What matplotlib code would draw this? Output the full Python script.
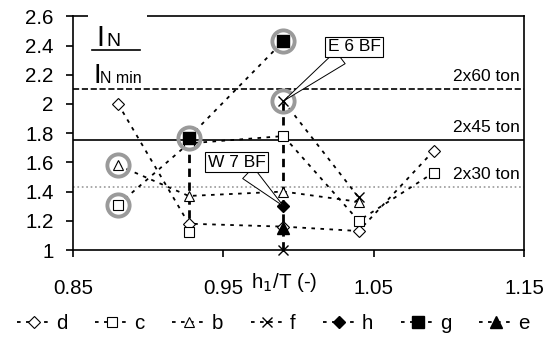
import numpy as np
import matplotlib.pyplot as plt
from matplotlib.patches import Rectangle
from matplotlib.lines import Line2D

plt.rcParams['font.family'] = ['Liberation Sans', 'DejaVu Sans']

# x positions (h1/T)
xs = [0.88, 0.927, 0.99, 1.04, 1.09, 1.20]
nan = np.nan

# series values (I_N / I_N min)
d = [2.00, 1.18, 1.16, 1.13, 1.68, nan]
c = [1.31, 1.73, 1.78, 1.20, 1.53, nan]
b = [1.58, 1.37, 1.40, 1.33, nan, 1.05]
f = [nan, nan, 2.02, 1.36, nan, nan]
h = [nan, nan, 1.30, nan, nan, nan]
g = [nan, 1.77, 2.43, nan, nan, nan]
e = [nan, nan, 1.15, nan, nan, nan]

# extra single points
c_low_x, c_low_y = [0.927], [1.12]
f_low_x, f_low_y = [0.99], [1.00]

# range bars
range_x = [0.927, 0.99]
range_lo = [1.12, 1.00]
range_hi = [1.77, 2.02]

# circled points
circ_x = [0.88, 0.88, 0.927, 0.99, 0.99]
circ_y = [1.58, 1.31, 1.77, 2.43, 2.02]

# reference levels
ref_vals = [2.10, 1.75, 1.43]
ref_labels = ['2x60 ton', '2x45 ton', '2x30 ton']
ref_styles = ['--', '-', ':']
ref_colors = ['k', 'k', '#999999']

fig = plt.figure(figsize=(5.47, 3.38), dpi=100)
ax = fig.add_axes([73 / 547, 1 - 250 / 338, 451 / 547, 233.7 / 338])

# reference lines and labels
for v, lab, ls, col in zip(ref_vals, ref_labels, ref_styles, ref_colors):
    ax.axhline(v, color=col, ls=ls, lw=1.2, zorder=1)
    ax.text(1.147, v + 0.035, lab, ha='right', va='bottom', fontsize=12.5)

ax.vlines(range_x, range_lo, range_hi, colors='k', linestyles=(0, (3, 2)), lw=2, zorder=2)

dots = (0, (2, 3))
common = dict(color='k', ls=dots, lw=1.3, zorder=3)
ax.plot(xs, d, marker='D', ms=6, mfc='white', mec='k', mew=0.8, label='d', **common)
ax.plot(xs, c, marker='s', ms=7, mfc='white', mec='k', mew=0.8, label='c', **common)
ax.plot(xs, b, marker='^', ms=7.5, mfc='white', mec='k', mew=0.8, label='b', **common)
ax.plot(xs, f, marker='x', ms=7.5, mec='k', mew=1.0, label='f', **common)
ax.plot(xs, h, marker='D', ms=6.5, mfc='k', mec='k', label='h', **common)
ax.plot(xs, g, marker='s', ms=9, mfc='k', mec='k', label='g', **common)
ax.plot(xs, e, marker='^', ms=8.5, mfc='k', mec='k', label='e', **common)

ax.plot(c_low_x, c_low_y, ls='none', marker='s', ms=7, mfc='white', mec='k', mew=0.8, zorder=3)
ax.plot(f_low_x, f_low_y, ls='none', marker='x', ms=7.5, mec='k', mew=1.0, zorder=3, clip_on=False)

ax.plot(circ_x, circ_y, ls='none', marker='o', ms=16, mfc='none', mec='#9a9a9a', mew=2.8, zorder=4)

# callouts
arrow = dict(arrowstyle='wedge,tail_width=0.9', fc='white', ec='k', lw=0.7, shrinkA=0, shrinkB=0)
box = dict(boxstyle='square,pad=0.15', fc='white', ec='k', lw=0.8)
ax.annotate('E 6 BF', xy=(0.99, 2.02), xytext=(1.037, 2.39), ha='center', va='center',
            fontsize=12.5, bbox=box, arrowprops=arrow, zorder=6)
ax.annotate('W 7 BF', xy=(0.99, 1.30), xytext=(0.959, 1.60), ha='center', va='center',
            fontsize=12.5, bbox=box, arrowprops=arrow, zorder=6)

ax.set_xlim(0.85, 1.15)
ax.set_ylim(1, 2.6)
ax.set_xticks([0.85, 0.95, 1.05, 1.15])
ax.set_xticklabels(['0.85', '0.95', '1.05', '1.15'])
ax.set_yticks(np.arange(1, 2.61, 0.2))
ax.set_yticklabels(['%g' % round(v, 1) for v in np.arange(1, 2.61, 0.2)])
ax.tick_params(axis='both', labelsize=14.8, direction='out', length=5, width=1.2)
ax.tick_params(axis='x', pad=16)
ax.tick_params(axis='y', pad=9)
for s in ax.spines.values():
    s.set_linewidth(1.2)

# y label as fraction in the corner
ax.add_patch(Rectangle((0.033, 0.70), 0.131, 0.33, transform=ax.transAxes,
                       fc='white', ec='none', clip_on=False, zorder=5))
ax.text(0.052, 0.872, 'I', transform=ax.transAxes, fontsize=21, va='baseline', zorder=6)
ax.text(0.073, 0.872, 'N', transform=ax.transAxes, fontsize=14, va='baseline', zorder=6)
ax.add_line(Line2D([0.042, 0.149], [0.856, 0.856], transform=ax.transAxes, color='k',
                   lw=1.2, clip_on=False, zorder=6))
ax.text(0.046, 0.715, 'I', transform=ax.transAxes, fontsize=20, va='baseline', zorder=6)
ax.text(0.060, 0.715, 'N min', transform=ax.transAxes, fontsize=11.5, va='baseline', zorder=6)

ax.text(0.468, -0.141, r'h$_1$/T (-)', transform=ax.transAxes, ha='center', va='center',
        fontsize=14.8)

fig.legend(loc='lower center', bbox_to_anchor=(0.5, -0.04), ncol=7, frameon=False,
           fontsize=14.8, handlelength=1.6, handletextpad=0.3, columnspacing=1.35)

fig.savefig('out.png', dpi=100)
